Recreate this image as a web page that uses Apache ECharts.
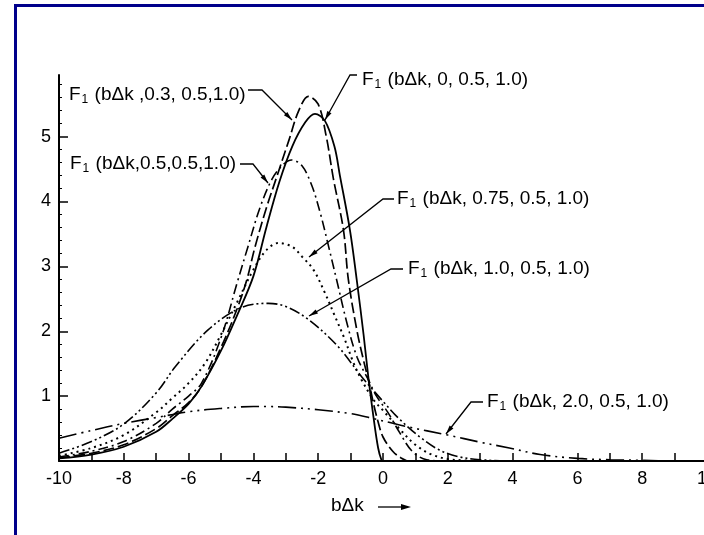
<!DOCTYPE html>
<html>
<head>
<meta charset="utf-8">
<script src="https://cdn.jsdelivr.net/npm/echarts@6/dist/echarts.min.js"></script>
<style>
  html, body { margin: 0; padding: 0; background: #fff; }
  #chart { width: 704px; height: 535px; }
</style>
</head>
<body>
<div id="chart"></div>
<script>
// ---- data ----
const xTickValues = [-10, -8, -6, -4, -2, 0, 2, 4, 6, 8, 10];
const yTickValues = [1, 2, 3, 4, 5];

// F1(bΔk, 0, 0.5, 1.0)  - solid
const curveXi0 = [[-10,0.04],[-9,0.1],[-8,0.22],[-7,0.45],[-6.5,0.65],[-6,0.88],[-5.6,1.15],[-5,1.7],[-4.5,2.25],[-4,2.85],[-3.6,3.6],[-3.2,4.3],[-2.8,4.85],[-2.4,5.22],[-2.1,5.35],[-1.8,5.25],[-1.5,4.85],[-1.33,4.4],[-1.02,3.56],[-0.81,2.79],[-0.6,1.95],[-0.45,1.28],[-0.3,0.7],[-0.15,0.2],[-0.05,0.02],[0,0],[2,0],[10,0]];
// F1(bΔk, 0.3, 0.5, 1.0) - long dashes
const curveXi03 = [[-10,0.05],[-9,0.12],[-8,0.25],[-7,0.5],[-6.5,0.7],[-6,0.9],[-5.6,1.15],[-5,1.75],[-4.5,2.35],[-4.2,2.8],[-3.95,3.3],[-3.6,3.9],[-3.3,4.35],[-2.9,4.95],[-2.6,5.4],[-2.3,5.62],[-2.0,5.5],[-1.75,5.0],[-1.53,4.35],[-1.22,3.56],[-1.07,2.8],[-0.8,2.0],[-0.6,1.55],[-0.45,1.25],[-0.3,0.9],[-0.15,0.6],[0,0.37],[0.3,0.15],[0.55,0.05],[0.8,0],[10,0]];
// F1(bΔk, 0.5, 0.5, 1.0) - dash dot
const curveXi05 = [[-10,0.06],[-9,0.15],[-8,0.3],[-7,0.58],[-6.5,0.8],[-6,1.0],[-5.6,1.2],[-5,1.9],[-4.5,2.75],[-4.17,3.3],[-3.8,3.9],[-3.43,4.34],[-3.1,4.56],[-2.82,4.64],[-2.5,4.55],[-2.2,4.25],[-1.94,3.83],[-1.7,3.35],[-1.43,2.79],[-1.1,2.1],[-0.8,1.6],[-0.45,1.25],[-0.2,1.0],[0.15,0.75],[0.5,0.45],[0.9,0.15],[1.35,0.02],[2,0],[10,0]];
// F1(bΔk, 0.75, 0.5, 1.0) - dotted
const curveXi075 = [[-10,0.08],[-9,0.2],[-8,0.4],[-7,0.75],[-6.5,0.97],[-6,1.2],[-5.5,1.5],[-5,1.95],[-4.5,2.45],[-4,2.95],[-3.6,3.25],[-3.23,3.36],[-2.8,3.3],[-2.5,3.15],[-2.15,2.95],[-1.8,2.6],[-1.5,2.25],[-1.2,1.9],[-0.9,1.5],[-0.66,1.25],[-0.3,0.95],[0,0.78],[0.5,0.5],[1.0,0.25],[1.5,0.1],[2,0.03],[2.5,0.01],[3,0],[10,0]];
// F1(bΔk, 1.0, 0.5, 1.0) - dash dot dot
const curveXi10 = [[-10,0.12],[-9,0.3],[-8,0.57],[-7,1.05],[-6.4,1.46],[-5.4,2.02],[-4.4,2.36],[-3.54,2.43],[-3,2.38],[-2.3,2.18],[-1.38,1.76],[-0.66,1.3],[0,0.92],[0.5,0.65],[1.14,0.37],[1.7,0.18],[2.3,0.07],[3,0.02],[4,0],[10,0]];
// F1(bΔk, 2.0, 0.5, 1.0) - long dash, two dots
const curveXi20 = [[-10,0.35],[-9,0.47],[-8,0.58],[-7,0.67],[-6,0.76],[-5,0.81],[-4,0.84],[-3.6,0.84],[-3,0.83],[-2,0.79],[-1,0.73],[-0.35,0.66],[0.73,0.53],[2,0.4],[3,0.29],[3.9,0.2],[4.85,0.1],[6,0.04],[7,0.02],[8,0.01],[9,0],[10,0]];

const curveLabels = [
  ' (bΔk ,0.3, 0.5,1.0)',
  ' (bΔk, 0, 0.5, 1.0)',
  ' (bΔk,0.5,0.5,1.0)',
  ' (bΔk, 0.75, 0.5, 1.0)',
  ' (bΔk, 1.0, 0.5, 1.0)',
  ' (bΔk, 2.0, 0.5, 1.0)'
];
const axisTitle = 'bΔk';

// ---- chart ----
const FONT = '"Liberation Sans", Arial, sans-serif';
const chart = echarts.init(document.getElementById('chart'), null, { renderer: 'canvas' });

function lineSeries(name, data, type, width) {
  return {
    name: name, type: 'line', data: data, showSymbol: false, smooth: 0.35,
    animation: false, silent: true,
    lineStyle: { color: '#000', width: width, type: type, cap: 'butt' }
  };
}

function fLabel(x, y, rest) {
  return {
    type: 'text', x: x, y: y, silent: true,
    style: {
      text: '{f|F}{s|1}{t|' + rest + '}',
      verticalAlign: 'middle',
      fill: '#000',
      rich: {
        f: { fontSize: 19, fontFamily: FONT, fill: '#000', verticalAlign: 'middle' },
        s: { fontSize: 12, fontFamily: FONT, fill: '#000', padding: [9, 1, 0, 1], verticalAlign: 'middle' },
        t: { fontSize: 19, fontFamily: FONT, fill: '#000', verticalAlign: 'middle' }
      }
    }
  };
}

function leader(points) {
  return { type: 'polyline', silent: true, shape: { points: points },
           style: { stroke: '#000', lineWidth: 1.3, fill: null } };
}

function arrowHead(from, tip, len, w) {
  len = len || 9; w = w || 2.4;
  const dx = tip[0] - from[0], dy = tip[1] - from[1];
  const L = Math.hypot(dx, dy), ux = dx / L, uy = dy / L;
  const bx = tip[0] - ux * len, by = tip[1] - uy * len;
  return { type: 'polygon', silent: true,
           shape: { points: [tip, [bx - uy * w, by + ux * w], [bx + uy * w, by - ux * w]] },
           style: { fill: '#000' } };
}

const leaders = [
  [[248, 90], [262, 90], [292, 120]],
  [[357, 75], [350, 75], [325, 120]],
  [[240, 164], [253, 164], [268, 183]],
  [[394, 199], [383, 199], [309, 257]],
  [[403, 269], [391, 269], [309, 316]],
  [[483, 402], [471, 402], [446, 434]]
];
const labelPos = [[69, 95], [362, 80], [70, 164], [397, 199], [408, 269], [487, 402]];

const graphics = [
  { type: 'rect', silent: true, shape: { x: 15.5, y: 5.5, width: 900, height: 900 },
    style: { stroke: '#00008b', lineWidth: 3, fill: null }, z: 100 }
];
curveLabels.forEach((t, i) => {
  graphics.push(fLabel(labelPos[i][0], labelPos[i][1], t));
  const p = leaders[i];
  graphics.push(leader(p));
  graphics.push(arrowHead(p[p.length - 2], p[p.length - 1]));
});
graphics.push({ type: 'text', x: 331, y: 506, silent: true,
  style: { text: axisTitle, fontSize: 19, fontFamily: FONT, fill: '#000', verticalAlign: 'middle' } });
graphics.push(leader([[378, 507], [406, 507]]));
graphics.push(arrowHead([378, 507], [411, 507], 10, 3));

const option = {
  animation: false,
  backgroundColor: '#fff',
  grid: { left: 59, right: -3, top: 75, bottom: 74, containLabel: false, outerBoundsMode: 'none' },
  xAxis: {
    type: 'value', min: -10, max: 10, interval: 1,
    axisLine: { show: true, onZero: false, lineStyle: { color: '#000', width: 2 } },
    axisTick: { show: true, inside: true, length: 8, lineStyle: { color: '#000', width: 1.5 } },
    splitLine: { show: false },
    axisLabel: {
      show: true, margin: 9, color: '#000', fontSize: 18, fontFamily: FONT,
      formatter: v => (xTickValues.indexOf(v) >= 0 ? String(v) : '')
    }
  },
  yAxis: {
    type: 'value', min: 0, max: 5.95, interval: 1,
    axisLine: { show: true, onZero: false, lineStyle: { color: '#000', width: 2 } },
    axisTick: { show: true, inside: true, length: 9, customValues: [0, 1, 2, 3, 4, 5], lineStyle: { color: '#000', width: 1.5 } },
    minorTick: { show: true, splitNumber: 5, length: 3, lineStyle: { color: '#000', width: 1 } },
    splitLine: { show: false },
    axisLabel: {
      show: true, margin: 8, color: '#000', fontSize: 18, fontFamily: FONT,
      customValues: yTickValues,
      formatter: v => (yTickValues.indexOf(v) >= 0 ? String(v) : '')
    }
  },
  series: [
    lineSeries('F1(bΔk,0,0.5,1.0)', curveXi0, 'solid', 1.8),
    lineSeries('F1(bΔk,0.3,0.5,1.0)', curveXi03, [11, 4], 1.7),
    lineSeries('F1(bΔk,0.5,0.5,1.0)', curveXi05, [10, 4, 2, 4], 1.6),
    lineSeries('F1(bΔk,0.75,0.5,1.0)', curveXi075, [2, 4], 2),
    lineSeries('F1(bΔk,1.0,0.5,1.0)', curveXi10, [11, 3, 2, 3, 2, 3], 1.6),
    lineSeries('F1(bΔk,2.0,0.5,1.0)', curveXi20, [18, 5, 2, 5, 2, 5], 1.6)
  ],
  graphic: graphics
};
chart.setOption(option);
</script>
</body>
</html>
